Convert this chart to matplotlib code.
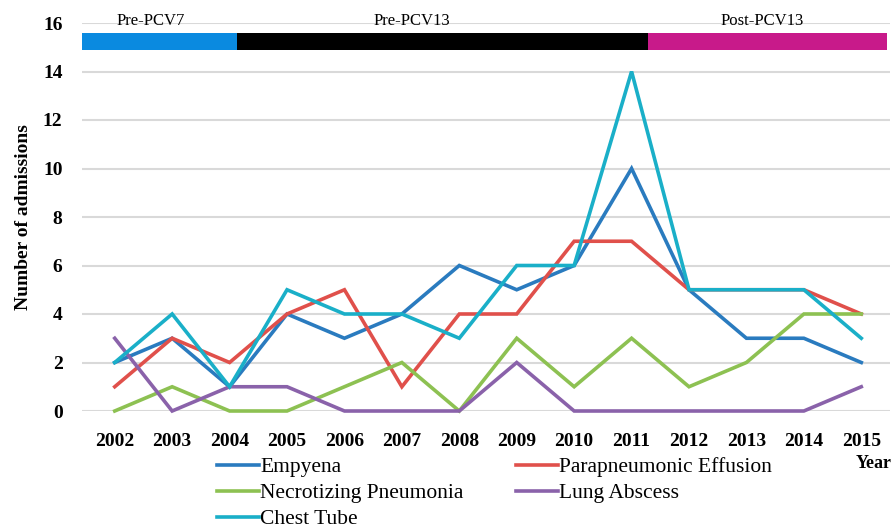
import matplotlib
matplotlib.use("Agg")
import matplotlib.pyplot as plt

years = list(range(2002, 2016))

empyena = [2, 3, 1, 4, 3, 4, 6, 5, 6, 10, 5, 3, 3, 2]
parapneumonic = [1, 3, 2, 4, 5, 1, 4, 4, 7, 7, 5, 5, 5, 4]
necrotizing = [0, 1, 0, 0, 1, 2, 0, 3, 1, 3, 1, 2, 4, 4]
lung_abscess = [3, 0, 1, 1, 0, 0, 0, 2, 0, 0, 0, 0, 0, 1]
chest_tube = [2, 4, 1, 5, 4, 4, 3, 6, 6, 14, 5, 5, 5, 3]

series = [
    ("Empyena", empyena, "#2a7bbf"),
    ("Parapneumonic Effusion", parapneumonic, "#e0504b"),
    ("Necrotizing Pneumonia", necrotizing, "#8dc152"),
    ("Lung Abscess", lung_abscess, "#8a62aa"),
    ("Chest Tube", chest_tube, "#1aafc8"),
]

# vaccine periods: label, start, end, colour, label x
periods = [
    ("Pre-PCV7", 2001.43, 2004.13, "#0a8ae0", 2002.63),
    ("Pre-PCV13", 2004.13, 2011.28, "#000000", 2007.17),
    ("Post-PCV13", 2011.28, 2015.45, "#c81a8a", 2013.28),
]

plt.rcParams['font.family'] = ['Liberation Serif', 'DejaVu Serif']

fig = plt.figure(figsize=(8.96, 5.32), dpi=100)
ax = fig.add_axes([82/896, 1-411/532, (890-82)/896, (411-23)/532])

for name, vals, col in series:
    ax.plot(years, vals, color=col, lw=2.6, label=name, clip_on=False,
            solid_joinstyle='miter')

for label, x0, x1, col, lx in periods:
    ax.fill_between([x0, x1], 14.89, 15.59, color=col, lw=0, clip_on=False)
    ax.text(lx, 16.08, label, ha='center', va='center', fontsize=12,
            clip_on=False)

ax.set_xlim(2001.43, 2015.5)
ax.set_ylim(0, 16)
ax.set_yticks(range(0, 17, 2))
ax.set_xticks(years)
ax.tick_params(length=0, labelsize=14)
ax.tick_params(axis='x', pad=16)
ax.tick_params(axis='y', pad=14)
for t in ax.get_xticklabels() + ax.get_yticklabels():
    t.set_fontweight('bold')
ax.grid(axis='y', color='#d9d9d9', lw=1.5)
ax.set_axisbelow(True)
for s in ax.spines.values():
    s.set_visible(False)

ax.set_ylabel("Number of admissions", fontsize=14, fontweight='bold', labelpad=8)
fig.text(874/896, 1-463/532, "Year", fontsize=13, fontweight='bold',
         ha='center', va='center')

handles, labels = ax.get_legend_handles_labels()
order = [0, 2, 4, 1, 3]
fig.legend([handles[i] for i in order], [labels[i] for i in order],
           ncol=2, frameon=False, fontsize=15.5, loc='upper left',
           bbox_to_anchor=(217/896, 1-457/532), handlelength=1.95,
           handletextpad=0.05, columnspacing=2.45, labelspacing=0.28,
           borderaxespad=0, borderpad=0)

fig.savefig("out.png", dpi=100)
